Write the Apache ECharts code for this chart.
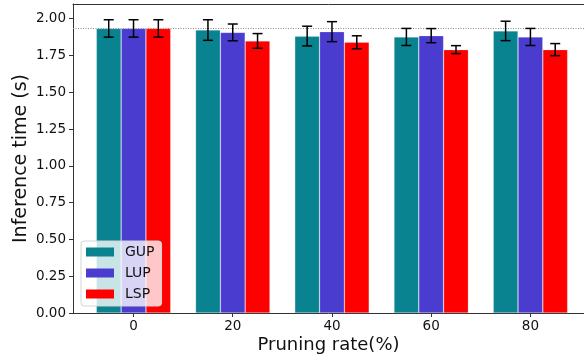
<!DOCTYPE html>
<html>
<head>
<meta charset="utf-8">
<script src="https://cdn.jsdelivr.net/npm/echarts@6/dist/echarts.min.js"></script>
<style>
  html, body { margin: 0; padding: 0; background: #fff; }
  #chart { width: 584px; height: 361px; }
</style>
</head>
<body>
<div id="chart"></div>
<script>
// Pruning rates (%) on the x axis
const pruningRates = [0, 20, 40, 60, 80];
const seriesNames = ['GUP', 'LUP', 'LSP'];

// Mean inference time (s) per method
const gupTime = [1.934, 1.923, 1.882, 1.876, 1.917];
const lupTime = [1.934, 1.907, 1.912, 1.885, 1.876];
const lspTime = [1.934, 1.849, 1.840, 1.790, 1.790];

// Standard deviation (s) per method
const gupErr = [0.059, 0.070, 0.067, 0.058, 0.066];
const lupErr = [0.059, 0.057, 0.068, 0.048, 0.058];
const lspErr = [0.059, 0.050, 0.044, 0.027, 0.041];

// Unpruned baseline
const baselineTime = 1.934;

const yTicks = [0, 0.25, 0.5, 0.75, 1.0, 1.25, 1.5, 1.75, 2.0];

const colors = ['#0a8390', '#4a3ccf', '#ff0000'];
const means = [gupTime, lupTime, lspTime];
const errs = [gupErr, lupErr, lspErr];

const FONT = 'DejaVu Sans';
const BAR_W = 5;          // bar width in x units (group spacing is 20)
const X_MIN = -12.2, X_MAX = 90.8;
const chart = echarts.init(document.getElementById('chart'), null, { renderer: 'canvas' });

const barSeries = seriesNames.map((name, s) => ({
  name: name,
  type: 'bar',
  barWidth: 24.8,
  barGap: '-100%',
  itemStyle: { color: colors[s], borderColor: 'rgba(255,255,255,0.35)', borderWidth: 0.6 },
  data: pruningRates.map((r, i) => [r + (s - 1) * BAR_W, means[s][i]]),
  z: 2
}));

const errData = [];
seriesNames.forEach((name, s) => {
  pruningRates.forEach((r, i) => {
    errData.push([r + (s - 1) * BAR_W, means[s][i], errs[s][i]]);
  });
});

// Error bars with caps
const errSeries = {
  type: 'custom',
  z: 5,
  silent: true,
  data: errData,
  renderItem: function (params, api) {
    const x = api.value(0), m = api.value(1), e = api.value(2);
    const top = api.coord([x, m + e]);
    const bot = api.coord([x, m - e]);
    const cap = 5;
    const st = { stroke: '#000', lineWidth: 1.5 };
    return {
      type: 'group',
      children: [
        { type: 'line', shape: { x1: top[0], y1: top[1], x2: bot[0], y2: bot[1] }, style: st },
        { type: 'line', shape: { x1: top[0] - cap, y1: top[1], x2: top[0] + cap, y2: top[1] }, style: st },
        { type: 'line', shape: { x1: bot[0] - cap, y1: bot[1], x2: bot[0] + cap, y2: bot[1] }, style: st }
      ]
    };
  }
};

// Dotted baseline across the whole plot
const baselineSeries = {
  type: 'custom',
  z: 1,
  silent: true,
  data: [[0, baselineTime]],
  renderItem: function (params, api) {
    const cs = params.coordSys;
    const y = Math.round(api.coord([0, api.value(1)])[1]) + 0.5;
    return {
      type: 'line',
      shape: { x1: cs.x, y1: y, x2: cs.x + cs.width, y2: y },
      style: { stroke: '#8a8a8a', lineWidth: 1, lineDash: [1, 1.5] }
    };
  }
};

chart.setOption({
  animation: false,
  textStyle: { fontFamily: FONT },
  grid: { left: 73, right: 0, top: 4, bottom: 48, show: false, containLabel: false, outerBoundsMode: 'none' },
  legend: {
    orient: 'vertical',
    left: 81, top: 241,
    data: seriesNames,
    icon: 'rect',
    itemWidth: 28, itemHeight: 9, itemGap: 7,
    padding: [4, 7, 5, 5],
    backgroundColor: 'rgba(255,255,255,0.78)',
    borderColor: '#d4d4d4', borderWidth: 1, borderRadius: 3,
    textStyle: { fontFamily: FONT, fontSize: 14, color: '#111', lineHeight: 14, padding: [0, 0, 0, 6] },
    itemStyle: { borderWidth: 0 }
  },
  xAxis: [{
    type: 'value',
    min: X_MIN, max: X_MAX,
    name: 'Pruning rate(%)',
    nameLocation: 'middle', nameGap: 23,
    nameMoveOverlap: false,
    nameTextStyle: { fontFamily: FONT, fontSize: 18, color: '#111' },
    splitLine: { show: false },
    axisLine: { show: true, onZero: false, lineStyle: { color: '#333', width: 1 } },
    axisTick: { show: true, length: 4, lineStyle: { color: '#333' }, customValues: pruningRates },
    axisLabel: { customValues: pruningRates, fontFamily: FONT, fontSize: 13.5, color: '#111', margin: 6 }
  }, {
    // top frame line
    type: 'value', position: 'top',
    min: X_MIN, max: X_MAX,
    splitLine: { show: false },
    axisLine: { show: true, onZero: false, lineStyle: { color: '#333', width: 1 } },
    axisTick: { show: false },
    axisLabel: { show: false }
  }],
  yAxis: {
    type: 'value',
    min: 0, max: 2.1,
    name: 'Inference time (s)',
    nameLocation: 'middle', nameGap: 42,
    nameMoveOverlap: false,
    nameTextStyle: { fontFamily: FONT, fontSize: 19, color: '#111' },
    splitLine: { show: false },
    axisLine: { show: true, onZero: false, lineStyle: { color: '#333', width: 1 } },
    axisTick: { show: true, length: 4, lineStyle: { color: '#333' }, customValues: yTicks },
    axisLabel: {
      customValues: yTicks, fontFamily: FONT, fontSize: 13.5, color: '#111', margin: 7,
      formatter: v => v.toFixed(2)
    }
  },
  series: barSeries.concat([errSeries, baselineSeries])
});
</script>
</body>
</html>
